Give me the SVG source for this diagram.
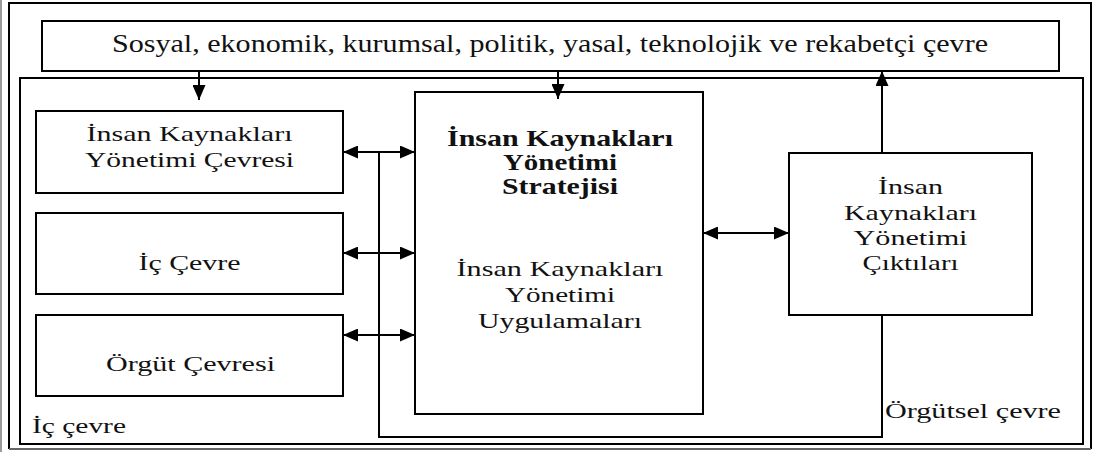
<svg xmlns="http://www.w3.org/2000/svg" width="1095" height="452" viewBox="0 0 1095 452">
  <defs>
    <style>
      .box { fill: #fff; stroke: #000; stroke-width: 2; }
      .frame { fill: none; stroke: #000; stroke-width: 2; }
      .wire { fill: none; stroke: #000; stroke-width: 2; }
      text { font-family: 'Liberation Serif', 'Times New Roman', serif; fill: #111; }
      .t { font-size: 22px; text-anchor: middle; }
      .b { font-weight: bold; font-size: 22.5px; }
      .lbl { font-size: 22px; }
    </style>
    <marker id="head" markerUnits="userSpaceOnUse" markerWidth="15" markerHeight="13" refX="15" refY="6.5" orient="auto-start-reverse">
      <path d="M0,0 L15,6.5 L0,13 Z" fill="#000"/>
    </marker>
  </defs>

  <rect width="1095" height="452" fill="#fff"/>

  <!-- page edge -->
  <line x1="1" y1="0" x2="1" y2="452" stroke="#9a9a9a" stroke-width="2"/>

  <!-- outer frame -->
  <g id="outer-frame">
    <path class="frame" d="M9,449 L9,3 L1091,3 L1091,449"/>
    <line x1="9" y1="449" x2="1091" y2="449" stroke="#666" stroke-width="2"/>
  </g>

  <!-- organisational environment -->
  <g id="orgutsel-cevre">
    <rect class="frame" x="20" y="78" width="1063" height="366"/>
    <text class="lbl" x="885" y="418" textLength="176" lengthAdjust="spacingAndGlyphs">Örgütsel çevre</text>
  </g>

  <g id="ic-cevre-label">
    <text class="lbl" x="32" y="433" textLength="94" lengthAdjust="spacingAndGlyphs">İç çevre</text>
  </g>

  <!-- external environment -->
  <g id="dis-cevre">
    <rect class="box" x="42" y="21" width="1017" height="50"/>
    <text class="t" x="550" y="52" style="font-size:25px" textLength="876" lengthAdjust="spacingAndGlyphs">Sosyal, ekonomik, kurumsal, politik, yasal, teknolojik ve rekabetçi çevre</text>
  </g>

  <g id="iky-cevresi">
    <rect class="box" x="36" y="111" width="307" height="82"/>
    <text class="t" x="189.5" y="141" textLength="206" lengthAdjust="spacingAndGlyphs">İnsan Kaynakları</text>
    <text class="t" x="189.5" y="166.5" textLength="209" lengthAdjust="spacingAndGlyphs">Yönetimi Çevresi</text>
  </g>

  <g id="ic-cevre">
    <rect class="box" x="36" y="213" width="307" height="81"/>
    <text class="t" x="189.5" y="270" textLength="102" lengthAdjust="spacingAndGlyphs">İç Çevre</text>
  </g>

  <g id="orgut-cevresi">
    <rect class="box" x="36" y="315" width="307" height="81"/>
    <text class="t" x="190.5" y="371" textLength="169" lengthAdjust="spacingAndGlyphs">Örgüt Çevresi</text>
  </g>

  <g id="iky-strateji">
    <rect class="box" x="415" y="92" width="288" height="322"/>
    <text class="t b" x="560" y="146" textLength="226" lengthAdjust="spacingAndGlyphs">İnsan Kaynakları</text>
    <text class="t b" x="560" y="170" textLength="114" lengthAdjust="spacingAndGlyphs">Yönetimi</text>
    <text class="t b" x="560" y="194" textLength="116" lengthAdjust="spacingAndGlyphs">Stratejisi</text>
    <text class="t" x="560" y="276" textLength="207" lengthAdjust="spacingAndGlyphs">İnsan Kaynakları</text>
    <text class="t" x="560" y="302" textLength="110" lengthAdjust="spacingAndGlyphs">Yönetimi</text>
    <text class="t" x="560" y="328" textLength="164" lengthAdjust="spacingAndGlyphs">Uygulamaları</text>
  </g>

  <g id="iky-ciktilari">
    <rect class="box" x="789" y="153" width="243" height="162"/>
    <text class="t" x="910.5" y="194" textLength="65" lengthAdjust="spacingAndGlyphs">İnsan</text>
    <text class="t" x="910.5" y="219.5" textLength="133" lengthAdjust="spacingAndGlyphs">Kaynakları</text>
    <text class="t" x="910.5" y="244.5" textLength="114" lengthAdjust="spacingAndGlyphs">Yönetimi</text>
    <text class="t" x="910.5" y="269.5" textLength="96" lengthAdjust="spacingAndGlyphs">Çıktıları</text>
  </g>

  <!-- connectors -->
  <g id="connectors">
    <line class="wire" x1="199" y1="71" x2="199" y2="100" marker-end="url(#head)"/>
    <line class="wire" x1="558" y1="71" x2="558" y2="99" marker-end="url(#head)"/>
    <line class="wire" x1="882" y1="153" x2="882" y2="71" marker-end="url(#head)"/>

    <line class="wire" x1="343" y1="152" x2="415" y2="152" marker-start="url(#head)" marker-end="url(#head)"/>
    <line class="wire" x1="343" y1="253" x2="415" y2="253" marker-start="url(#head)" marker-end="url(#head)"/>
    <line class="wire" x1="343" y1="335" x2="415" y2="335" marker-start="url(#head)" marker-end="url(#head)"/>
    <line class="wire" x1="703" y1="233" x2="789" y2="233" marker-start="url(#head)" marker-end="url(#head)"/>

    <!-- feedback loop from outputs back to the left-hand links -->
    <polyline class="wire" points="379,152 379,437 882,437 882,315"/>
  </g>
</svg>
